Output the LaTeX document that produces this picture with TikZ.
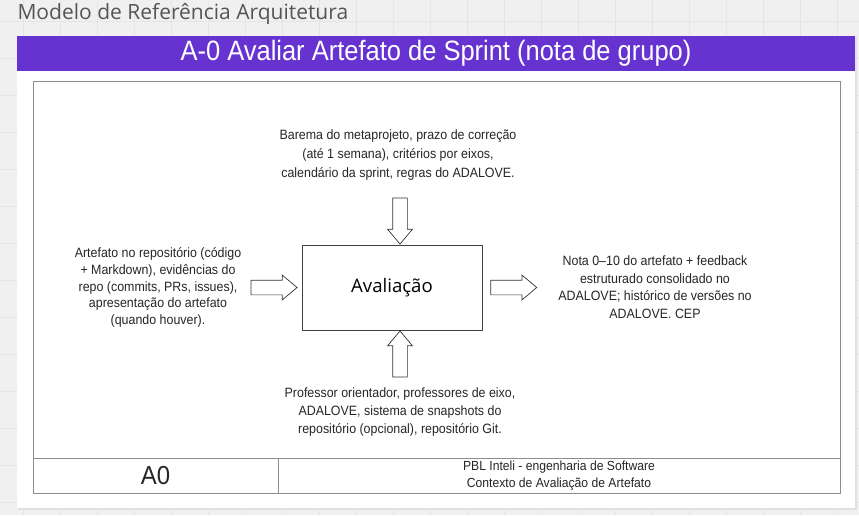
\documentclass[tikz,border=0pt]{standalone}
\usepackage{fontspec}
\setmainfont{Liberation Sans}
\newfontfamily\condfont[FakeStretch=0.92]{Liberation Sans}
\newfontfamily\headfont[FakeStretch=0.91]{Liberation Sans}
\newfontfamily\openfont{Open Sans}
\usetikzlibrary{shapes.arrows}
\definecolor{headpurple}{RGB}{102,51,209}
\definecolor{canvasgray}{RGB}{240,240,240}
\definecolor{gridgray}{RGB}{229,229,229}
\definecolor{framegray}{RGB}{140,140,140}
\definecolor{labelgray}{RGB}{85,85,85}
\tikzset{
  blockarrow/.style={single arrow, draw=black!80, fill=white, line width=0.7pt,
    minimum height=46pt, inner sep=7pt,
    single arrow head extend=5pt, single arrow tip angle=80, single arrow head indent=0pt},
  flowtext/.style={align=center, text=black!85, font=\condfont\fontsize{13.5}{17.5}\selectfont},
  footline/.style={draw=framegray, line width=0.8pt},
}
\begin{document}
\begin{tikzpicture}[x=1pt, y=-1pt]
        \useasboundingbox (0,0) rectangle (859,515);
        \fill[canvasgray] (0,0) rectangle (859,515);
        \foreach \gx in {23,60,...,859}{
            \draw[gridgray] (\gx,0) -- (\gx,515);
        }
        \foreach \gy in {21,58,...,515}{
            \draw[gridgray] (0,\gy) -- (859,\gy);
        }
        \node[anchor=west, text=labelgray, font=\openfont\fontsize{21}{24}\selectfont] (pagetitle) at (14,14) {Modelo de Referência Arquitetura};
        \fill[black!12] (18,37) rectangle (857,510);
        \fill[white] (17,36) rectangle (855,508);
        \fill[headpurple] (17,36) rectangle (855,71);
        \node[text=white, font=\headfont\fontsize{28}{32}\selectfont] (heading) at (436,53.5) {A-0 Avaliar Artefato de Sprint (nota de grupo)};
        \draw[footline] (33,81) rectangle (840,493);
        \draw[footline] (33,458) -- (840,458);
        \draw[footline] (278,458) -- (278,493);
        \node[text=black!85, font=\condfont\fontsize{26}{30}\selectfont] (nodeid) at (155.5,476) {A0};
        \node[flowtext, font=\condfont\fontsize{13.2}{17}\selectfont] (context) at (559,475.5) {PBL Inteli - engenharia de Software\\Contexto de Avaliação de Artefato};
        \node[draw=black!75, line width=0.8pt, minimum width=180pt, minimum height=85pt, font=\openfont\fontsize{18.6}{22}\selectfont] (eval) at (392,287.5) {Avaliação};
        \node[blockarrow, shape border rotate=270, anchor=tip] (ctrlarrow) at ([xshift=8pt]eval.north) {};
        \node[blockarrow, shape border rotate=90, anchor=tip] (mecharrow) at ([xshift=8pt]eval.south) {};
        \node[blockarrow, anchor=tip] (inarrow) at ([xshift=-4pt]eval.west) {};
        \node[blockarrow, anchor=tail] (outarrow) at ([xshift=8pt]eval.east) {};
        \node[flowtext, font=\condfont\fontsize{13.5}{19}\selectfont] (controls) at (398,155) {Barema do metaprojeto, prazo de correção\\(até 1 semana), critérios por eixos,\\calendário da sprint, regras do ADALOVE.};
        \node[flowtext, font=\condfont\fontsize{13.5}{16.8}\selectfont] (inputs) at (158,287.5) {Artefato no repositório (código\\+ Markdown), evidências do\\repo (commits, PRs, issues),\\apresentação do artefato\\(quando houver).};
        \node[flowtext] (outputs) at (655,287) {Nota 0–10 do artefato + feedback\\estruturado consolidado no\\ADALOVE; histórico de versões no\\ADALOVE. CEP};
        \node[flowtext, font=\condfont\fontsize{13.5}{18}\selectfont] (mechanisms) at (400,412) {Professor orientador, professores de eixo,\\ADALOVE, sistema de snapshots do\\repositório (opcional), repositório Git.};
\end{tikzpicture}
\end{document}
